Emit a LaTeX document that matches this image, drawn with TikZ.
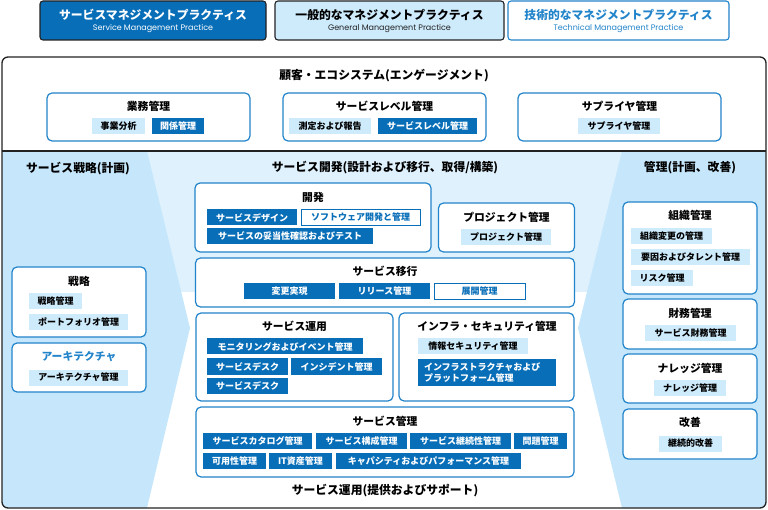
\documentclass[tikz,border=0pt]{standalone}
\usepackage{fontspec}
\setmainfont{Noto Sans CJK JP}
\newfontfamily\latinfont{Poppins}
\usetikzlibrary{positioning}

\definecolor{dkblue}{RGB}{8,110,184}
\definecolor{boxblue}{RGB}{34,132,202}
\definecolor{tagblue}{RGB}{206,235,252}
\definecolor{chevblue}{RGB}{198,231,251}
\definecolor{bandblue}{RGB}{222,241,253}
\definecolor{frame}{RGB}{34,34,34}

\begin{document}
\begin{tikzpicture}[
    x=1pt, y=-1pt,
    box/.style={draw=boxblue, line width=1.2pt, rounded corners=5pt, fill=white, inner sep=0pt},
    legend/.style={draw=frame, line width=1.1pt, rounded corners=3pt, inner sep=0pt, minimum height=39},
    ttl/.style={font=\bfseries\fontsize{10.8}{12}\selectfont},
    sect/.style={font=\bfseries\fontsize{11.8}{13}\selectfont},
    sub/.style={font=\latinfont\fontsize{8}{9}\selectfont},
    tagd/.style={fill=dkblue, text=white, font=\bfseries\fontsize{9}{10}\selectfont, minimum height=16, inner sep=0pt},
    tagl/.style={tagd, fill=tagblue, text=black},
    tagw/.style={tagd, fill=white, draw=dkblue, text=dkblue, line width=0.6pt}
]

    \useasboundingbox (0,0) rectangle (768,510);

    % Background
    \begin{scope}
        \clip[rounded corners=6pt] (2,57) rectangle (766,508);
        \fill[bandblue] (147,151) rectangle (622,292);
        \fill[chevblue] (2,151) -- (147,151) -- (190,328) -- (147,508) -- (2,508) -- cycle;
        \fill[chevblue] (766,151) -- (622,151) -- (578,328) -- (622,508) -- (766,508) -- cycle;
    \end{scope}
    \draw[frame, line width=1.3pt, rounded corners=6pt] (2,57) rectangle (766,508);
    \draw[frame, line width=1.3pt] (2,151) -- (766,151);

    % Legend
    \node[legend, fill=dkblue, minimum width=226] (lgsm) at (153,20.5) {};
    \node[font=\bfseries\fontsize{11.8}{13}\selectfont, text=white] (lgsmT) at (153,15) {サービスマネジメントプラクティス};
    \node[sub, text=white] (lgsmS) at (153,28.5) {Service Management Practice};
    \node[legend, fill=tagblue, minimum width=229] (lggm) at (389.5,20.5) {};
    \node[font=\bfseries\fontsize{11.8}{13}\selectfont] (lggmT) at (389.5,15) {一般的なマネジメントプラクティス};
    \node[sub, text=frame] (lggmS) at (389.5,28.5) {General Management Practice};
    \node[legend, draw=boxblue, fill=white, minimum width=221] (lgtm) at (618.5,20.5) {};
    \node[font=\bfseries\fontsize{11.8}{13}\selectfont, text=boxblue] (lgtmT) at (618.5,15) {技術的なマネジメントプラクティス};
    \node[sub, text=boxblue] (lgtmS) at (618.5,28.5) {Technical Management Practice};

    % Customer / ecosystem
    \node[sect] (eco) at (384,76) {顧客・エコシステム(エンゲージメント)};
    \node[box, minimum width=203, minimum height=48] (biz) at (148.5,117) {};
    \node[ttl] (bizT) at (148.5,106) {業務管理};
    \node[tagl, minimum width=53] (biz1) at (118.5,126) {事業分析};
    \node[tagd, minimum width=52] (biz2) at (178,126) {関係管理};
    \node[box, minimum width=203, minimum height=48] (slm) at (384.5,117) {};
    \node[ttl] (slmT) at (384.5,106) {サービスレベル管理};
    \node[tagl, minimum width=82] (slm1) at (330,126) {測定および報告};
    \node[tagd, minimum width=99] (slm2) at (427.5,126) {サービスレベル管理};
    \node[box, minimum width=203, minimum height=48] (sup) at (619.5,117) {};
    \node[ttl] (supT) at (619.5,106) {サプライヤ管理};
    \node[tagl, minimum width=82] (sup1) at (619,126) {サプライヤ管理};

    % Service strategy
    \node[sect] (strat) at (78,169) {サービス戦略(計画)};
    \node[box, minimum width=134, minimum height=70] (stg) at (79,302) {};
    \node[ttl] (stgT) at (79,281) {戦略};
    \node[tagl, minimum width=53] (stg1) at (55.5,301) {戦略管理};
    \node[tagl, minimum width=99] (stg2) at (78.5,322) {ポートフォリオ管理};
    \node[box, minimum width=134, minimum height=49] (arc) at (79,367.5) {};
    \node[ttl, text=boxblue] (arcT) at (79,357) {アーキテクチャ};
    \node[tagl, minimum width=99] (arc1) at (78.5,377.5) {アーキテクチャ管理};

    % Service development
    \node[sect] (dev) at (385,168) {サービス開発(設計および移行、取得/構築)};
    \node[box, minimum width=236, minimum height=69] (dvl) at (313,217.5) {};
    \node[ttl] (dvlT) at (313,197) {開発};
    \node[tagd, minimum width=90] (dvl1) at (252,217.5) {サービスデザイン};
    \node[tagw, minimum width=119] (dvl2) at (360.5,217.5) {ソフトウェア開発と管理};
    \node[tagd, minimum width=166] (dvl3) at (290,236.5) {サービスの妥当性確認およびテスト};
    \node[box, minimum width=136, minimum height=49] (prj) at (506.5,227.5) {};
    \node[ttl] (prjT) at (506.5,217) {プロジェクト管理};
    \node[tagl, minimum width=90] (prj1) at (506,237) {プロジェクト管理};
    \node[box, minimum width=379, minimum height=49] (trn) at (385,282.5) {};
    \node[ttl] (trnT) at (385,271) {サービス移行};
    \node[tagd, minimum width=91] (trn1) at (289.5,291.5) {変更実現};
    \node[tagd, minimum width=91] (trn2) at (384.5,291.5) {リリース管理};
    \node[tagw, minimum width=91] (trn3) at (479.5,291.5) {展開管理};

    % Service operation
    \node[box, minimum width=197, minimum height=88] (ops) at (294.5,357) {};
    \node[ttl] (opsT) at (294.5,326) {サービス運用};
    \node[tagd, minimum width=156] (ops1) at (285,346.5) {モニタリングおよびイベント管理};
    \node[tagd, minimum width=81] (ops2) at (247.5,366.5) {サービスデスク};
    \node[tagd, minimum width=91] (ops3) at (336.5,366.5) {インシデント管理};
    \node[tagd, minimum width=81] (ops4) at (247.5,386) {サービスデスク};
    \node[box, minimum width=175, minimum height=88] (inf) at (486.5,357) {};
    \node[ttl] (infT) at (487,326) {インフラ・セキュリティ管理};
    \node[tagd, minimum width=138, minimum height=27, align=left, text width=126, inner xsep=6pt,
          font=\bfseries\fontsize{9}{11}\selectfont] (inf2) at (487,372.5) {インフラストラクチャおよび\\プラットフォーム管理};
    \node[tagl, minimum width=110] (inf1) at (473,346.5) {情報セキュリティ管理};

    % Service management
    \node[box, minimum width=378, minimum height=70] (smg) at (385,442) {};
    \node[ttl] (smgT) at (385,421) {サービス管理};
    \node[tagd, minimum width=109] (smg1) at (257.5,441) {サービスカタログ管理};
    \node[tagd, minimum width=91] (smg2) at (361.5,441) {サービス構成管理};
    \node[tagd, minimum width=101] (smg3) at (460.5,441) {サービス継続性管理};
    \node[tagd, minimum width=53] (smg4) at (540.5,441) {問題管理};
    \node[tagd, minimum width=63] (smg5) at (234.5,461) {可用性管理};
    \node[tagd, minimum width=63] (smg6) at (300.5,461) {IT資産管理};
    \node[tagd, minimum width=185] (smg7) at (428.5,461) {キャパシティおよびパフォーマンス管理};
    \node[sect] (run) at (385,491) {サービス運用(提供およびサポート)};

    % Management
    \node[sect] (mgt) at (690,168) {管理(計画、改善)};
    \node[box, minimum width=134, minimum height=92] (org) at (690,248) {};
    \node[ttl] (orgT) at (690,215) {組織管理};
    \node[tagl, minimum width=81] (org1) at (671.5,236) {組織変更の管理};
    \node[tagl, minimum width=119] (org2) at (690.5,257) {要因およびタレント管理};
    \node[tagl, minimum width=62] (org3) at (662,278.5) {リスク管理};
    \node[box, minimum width=134, minimum height=50] (fin) at (690,324) {};
    \node[ttl] (finT) at (690,313) {財務管理};
    \node[tagl, minimum width=91] (fin1) at (690.5,333.5) {サービス財務管理};
    \node[box, minimum width=134, minimum height=49] (knw) at (690,378.5) {};
    \node[ttl] (knwT) at (690,368) {ナレッジ管理};
    \node[tagl, minimum width=72] (knw1) at (690,388) {ナレッジ管理};
    \node[box, minimum width=134, minimum height=50] (imp) at (690,434) {};
    \node[ttl] (impT) at (690,422) {改善};
    \node[tagl, minimum width=63] (imp1) at (690.5,443.5) {継続的改善};

\end{tikzpicture}
\end{document}
